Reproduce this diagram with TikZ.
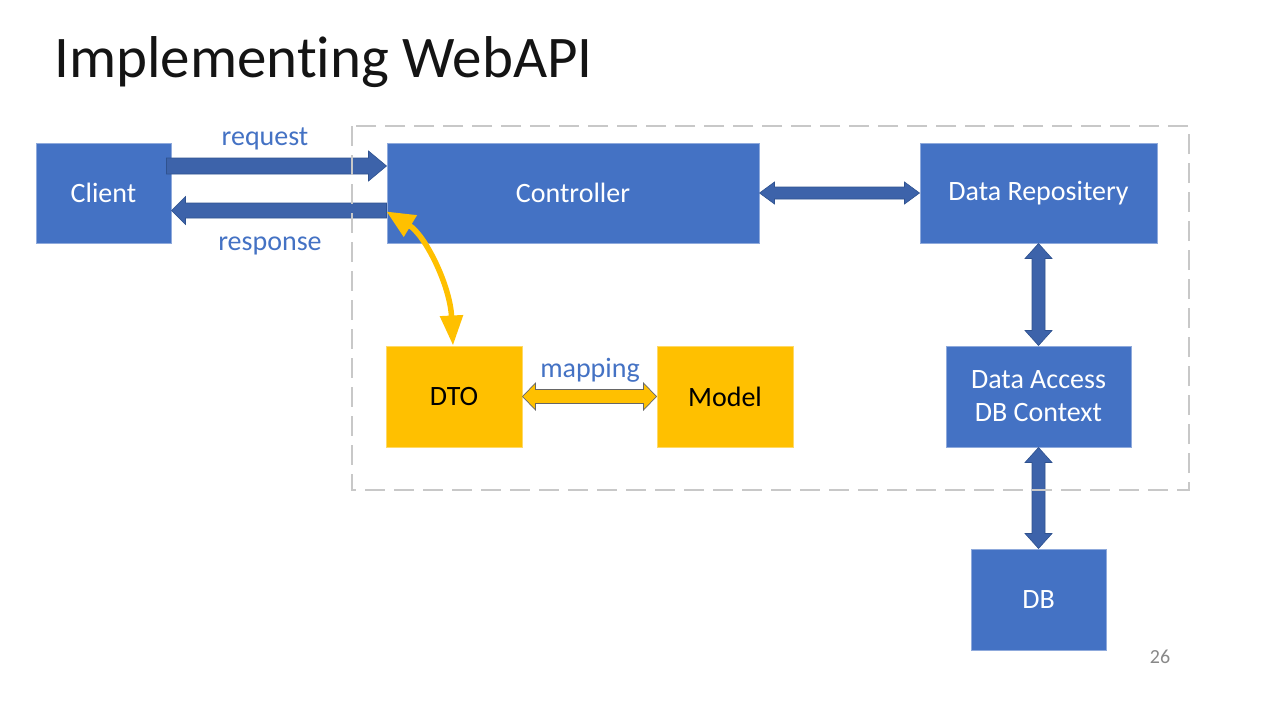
\documentclass[tikz,border=0pt]{standalone}
\usepackage{fontspec}
\setmainfont{Carlito}[RawFeature={-liga;-calt;-clig;-dlig}]
\usetikzlibrary{calc,arrows.meta}
\definecolor{boxblue}{RGB}{68,114,196}
\definecolor{boxedge}{RGB}{143,170,220}
\definecolor{arrblue}{RGB}{61,99,170}
\definecolor{arredge}{RGB}{47,82,143}
\definecolor{gold}{RGB}{255,192,0}
\definecolor{goldedge}{RGB}{255,217,102}
\definecolor{dashgray}{RGB}{200,200,200}
\definecolor{numgray}{RGB}{137,137,137}
\definecolor{titlegray}{RGB}{20,20,20}
\newcommand\HDbl[6]{\path[#6] (#1) -- ($(#1)+(#3,-#4)$) -- ($(#1)+(#3,-#5)$) -- ($(#2)+(-#3,-#5)$) -- ($(#2)+(-#3,-#4)$) -- (#2) -- ($(#2)+(-#3,#4)$) -- ($(#2)+(-#3,#5)$) -- ($(#1)+(#3,#5)$) -- ($(#1)+(#3,#4)$) -- cycle;}
\newcommand\VDbl[6]{\path[#6] (#1) -- ($(#1)+(#4,#3)$) -- ($(#1)+(#5,#3)$) -- ($(#2)+(#5,-#3)$) -- ($(#2)+(#4,-#3)$) -- (#2) -- ($(#2)+(-#4,-#3)$) -- ($(#2)+(-#5,-#3)$) -- ($(#1)+(-#5,#3)$) -- ($(#1)+(-#4,#3)$) -- cycle;}
\newcommand\HOne[6]{\path[#6] ($(#1)+(0,-#5)$) -- ($(#2)+(-#3,-#5)$) -- ($(#2)+(-#3,-#4)$) -- (#2) -- ($(#2)+(-#3,#4)$) -- ($(#2)+(-#3,#5)$) -- ($(#1)+(0,#5)$) -- cycle;}
\tikzset{
  bluebox/.style={fill=boxblue, draw=boxedge, line width=1pt, inner sep=0pt, text=white, font=\fontsize{28}{33}\selectfont, align=center},
  goldbox/.style={fill=gold, draw=goldedge, line width=1pt, inner sep=0pt, text=black, font=\fontsize{28}{33}\selectfont, align=center},
  blockarrow/.style={fill=arrblue, draw=arredge, line width=0.6pt},
  goldarrow/.style={fill=gold, draw=black!60, line width=0.7pt},
  lbl/.style={text=boxblue, font=\fontsize{28}{33}\selectfont, inner sep=0pt},
}
\begin{document}
\begin{tikzpicture}[x=1pt,y=-1pt]
\useasboundingbox[fill=white] (0,0) rectangle (1265,718);
\node[anchor=base west, inner sep=0pt, text=titlegray, font=\fontsize{59}{70}\selectfont] (title) at (54,77) {Implementing WebAPI};
% boxes
\node[bluebox, minimum width=135, minimum height=100] (client) at (103.5,193) {Client};
\node[bluebox, minimum width=372, minimum height=100] (ctrl) at (573,193) {Controller};
\node[bluebox, minimum width=237, minimum height=100] (repo) at (1038.5,193) {Data Repositery};
\node[goldbox, minimum width=136, minimum height=101] (dto) at (454,396.5) {DTO};
\node[goldbox, minimum width=136, minimum height=101] (model) at (725,396.5) {Model};
\node[bluebox, minimum width=185, minimum height=101] (dac) at (1038.5,396.5) {Data Access\\DB Context};
\node[bluebox, minimum width=135, minimum height=101] (db) at (1038.5,599.5) {DB};
% request / response
\coordinate (reqT) at ($(client.east)+(-5,-27)$);
\coordinate (reqP) at ($(ctrl.west)+(0,-27)$);
\HOne{reqT}{reqP}{18}{15}{8}{blockarrow}
\coordinate (resT) at ($(ctrl.west)+(0,17.5)$);
\coordinate (resP) at ($(client.east)+(0,17.5)$);
\HOne{resT}{resP}{-14}{14}{7.5}{blockarrow}
\node[lbl] (reqlbl) at (265,139) {request};
\node[lbl] (reslbl) at (270,246) {response};
% controller <-> repository
\HDbl{ctrl.east}{repo.west}{15}{11}{6}{blockarrow}
\VDbl{repo.south}{dac.north}{15}{13.5}{6.5}{blockarrow}
\VDbl{dac.south}{db.north}{15}{13.5}{6.5}{blockarrow}
% mapping
\HDbl{dto.east}{model.west}{13}{13.5}{7}{goldarrow}
\node[lbl] (maplbl) at (590,370) {mapping};
% curved yellow arrow
\coordinate (cS) at ($(ctrl.south west)+(0,-32)$);
\draw[gold, line width=5.5pt, {Triangle[length=28pt,width=24pt]}-{Triangle[length=30pt,width=22pt]}]
  (cS) .. controls (425,235) and (450,285) .. ([xshift=-1pt]dto.north);
% dashed frame
\draw[dashgray, line width=2.5pt, dash pattern=on 20pt off 9pt] (352,126) rectangle (1189,490);
\node[text=numgray, inner sep=0pt, font=\fontsize{20}{24}\selectfont] (pg) at (1160,657) {26};
\end{tikzpicture}
\end{document}
